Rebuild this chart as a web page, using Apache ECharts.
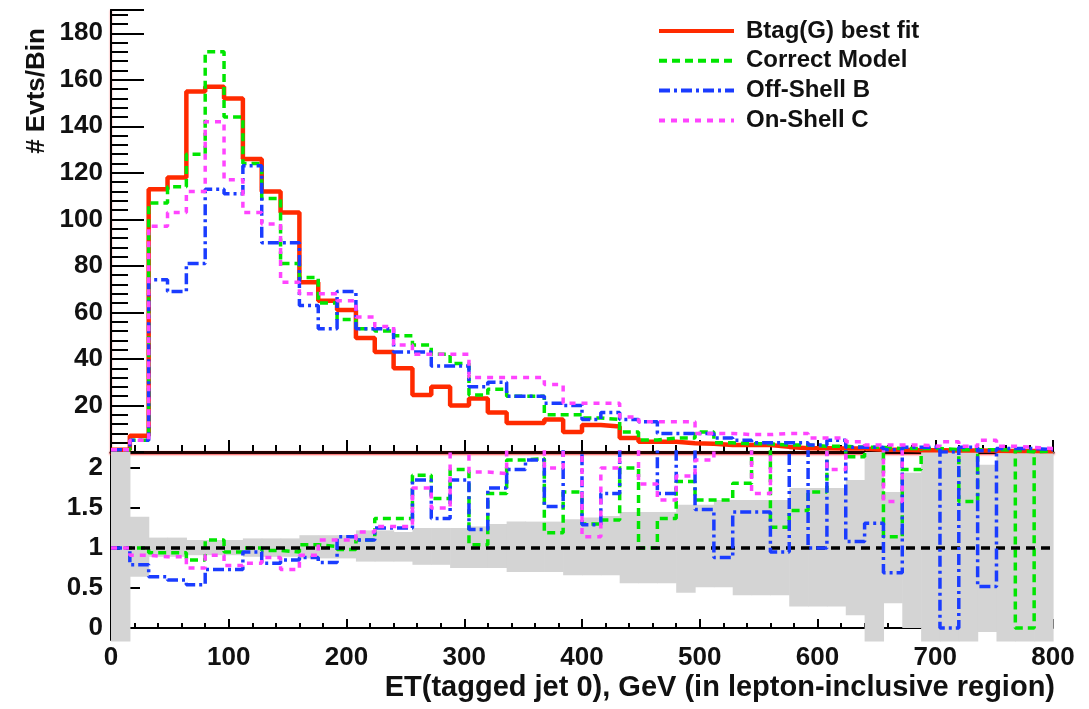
<!DOCTYPE html>
<html lang="en">
<head>
<meta charset="UTF-8">
<title>ET(tagged jet 0)</title>
<script src="https://cdn.jsdelivr.net/npm/echarts@6/dist/echarts.min.js"></script>
<style>
    html, body { margin: 0; padding: 0; background: #fff; }
    #chart { width: 1089px; height: 709px; }
</style>
</head>
<body>
<div id="chart"></div>
<script>
    // bin edges, GeV (16 GeV bins)
    var binEdges = [0, 16, 32, 48, 64, 80, 96, 112, 128, 144, 160, 176, 192, 208, 224, 240, 256, 272, 288, 304,
        320, 336, 352, 368, 384, 400, 416, 432, 448, 464, 480, 496, 512, 528, 544, 560, 576, 592, 608, 624,
        640, 656, 672, 688, 704, 720, 736, 752, 768, 784, 800];

    var names = ['Btag(G) best fit', 'Correct Model', 'Off-Shell B', 'On-Shell C'];

    // events per bin (upper panel)
    var btagFit = [1, 7, 113, 118, 155, 157, 152, 126, 112, 103,
        73, 65, 61, 49, 43, 36, 24.5, 28, 20, 23,
        17, 12.5, 12.5, 14, 8.6, 11.6, 11, 6, 4.4, 4.4,
        3.8, 3.5, 3, 3, 3, 2.2, 1.6, 1.6, 1.5, 1.5,
        1, 1, 0.8, 0.8, 0.6, 0.6, 0.5, 0.4, 0.4, 0.3];
    var correctModel = [1, 5, 107, 114, 128, 172, 144, 124, 109, 81,
        75, 64, 57, 53, 52, 50, 46, 42, 38, 24.5,
        27, 24, 24, 16, 16, 14.6, 14, 8.6, 5.2, 6,
        6, 8.6, 4, 3.5, 3.5, 3, 3, 2.5, 2.5, 2,
        2, 1.5, 1.5, 1.5, 1, 1, 1, 0.8, 0, 0.5];
    var offShellB = [1, 5, 74, 69, 81, 113, 111, 123, 90, 90,
        63, 53, 69, 53, 53, 43, 43, 37, 37, 28,
        30, 24, 24, 21, 20, 14, 17, 14, 13, 8,
        8, 8, 6, 5, 4, 4, 4, 3, 5, 2,
        2, 1, 2, 2, 0, 2, 0.5, 1.5, 1.5, 1];
    var onShellC = [1, 5, 97, 103, 112, 142, 117, 103, 98, 73,
        68, 68, 65, 58, 54, 46, 42, 42, 42, 32,
        32, 32, 32, 29, 21, 21, 21, 15, 13, 13,
        13, 8, 8, 7.5, 7.5, 8, 8, 6, 6, 4.4,
        3, 3, 3, 2.5, 4.4, 2.5, 5, 2.5, 2, 1.5];

    // ratio to best fit (lower panel)
    var ratioCorrect = [1.0, 1.0, 0.94, 0.94, 0.85, 1.1, 0.95, 1.0, 0.97, 0.95,
        1.04, 1.02, 0.98, 1.1, 1.37, 1.37, 1.91, 1.62, 1.98, 1.04,
        1.68, 2.1, 2.12, 1.19, 1.7, 1.3, 1.35, 2.0, 1.0, 1.37,
        1.83, 1.6, 1.6, 1.81, 3, 1.26, 1.47, 1.7, 3, 2.14,
        3, 1.14, 1.98, 3, 3, 1.58, 3, 3, 0.0, 3];
    var ratioOffShellB = [1.0, 0.79, 0.64, 0.6, 0.54, 0.73, 0.73, 0.95, 0.81, 0.85,
        0.88, 0.82, 1.14, 1.1, 1.25, 1.25, 1.85, 1.37, 1.85, 1.23,
        1.75, 1.98, 2.1, 1.52, 3, 1.29, 1.68, 3, 3, 1.68,
        3, 1.48, 0.88, 1.45, 1.45, 0.95, 3, 1.0, 3, 1.08,
        1.31, 0.69, 3, 3, 0.0, 3, 0.52, 3, 3, 3];
    var ratioOnShellC = [1.0, 0.91, 0.89, 0.89, 0.75, 0.91, 0.78, 0.81, 0.88, 0.73,
        0.91, 1.1, 1.1, 1.2, 1.27, 1.27, 1.75, 1.5, 3, 1.95,
        1.93, 3, 3, 2.0, 3, 1.14, 2.0, 3, 1.8, 1.6,
        1.9, 2.1, 3, 3, 1.68, 3, 3, 3, 1.98, 3,
        3, 1.58, 3, 3, 3, 3, 3, 3, 3, 3];

    // grey uncertainty band
    var bandLow = [-0.17, 0.64, 0.89, 0.89, 0.91, 0.91, 0.91, 0.89, 0.89, 0.89,
        0.87, 0.87, 0.87, 0.83, 0.83, 0.83, 0.79, 0.79, 0.75, 0.75,
        0.75, 0.70, 0.70, 0.70, 0.66, 0.66, 0.66, 0.56, 0.56, 0.56,
        0.44, 0.51, 0.51, 0.41, 0.41, 0.41, 0.27, 0.27, 0.27, 0.16,
        -0.17, 0.31, 0.0, -0.17, -0.17, -0.17, -0.05, -0.17, -0.17, -0.17];
    var bandHigh = [2.2, 1.39, 1.13, 1.13, 1.10, 1.10, 1.10, 1.12, 1.12, 1.12,
        1.16, 1.16, 1.16, 1.22, 1.22, 1.20, 1.25, 1.25, 1.25, 1.27,
        1.30, 1.33, 1.33, 1.33, 1.36, 1.38, 1.40, 1.45, 1.45, 1.45,
        1.54, 1.54, 1.60, 1.60, 1.60, 1.60, 1.75, 1.75, 1.75, 1.85,
        2.2, 1.70, 1.94, 2.2, 2.2, 2.2, 2.04, 2.2, 2.2, 2.2];

    var ratioTicks = [0, 0.5, 1, 1.5, 2];

    var FONT = '"Liberation Sans", Arial, sans-serif';

    function stepData(vals) {
        var d = [];
        for (var i = 0; i < vals.length; i++) {
            d.push([binEdges[i], vals[i]]);
        }
        d.push([binEdges[vals.length], vals[vals.length - 1]]);
        return d;
    }

    var bandData = [];
    for (var i = 0; i < bandLow.length; i++) {
        bandData.push([binEdges[i], binEdges[i + 1], bandLow[i], bandHigh[i]]);
    }

    var styles = [
        {color: '#ff2a00', width: 4.5, type: 'solid'},
        {color: '#00e600', width: 3.5, type: [8, 5]},
        {color: '#1a3cff', width: 3.5, type: [11, 4, 3, 4]},
        {color: '#ff44ff', width: 3.5, type: [6, 6]}
    ];
    var topData = [btagFit, correctModel, offShellB, onShellC];
    var ratioData = [null, ratioCorrect, ratioOffShellB, ratioOnShellC];

    var axisLineStyle = {color: '#000', width: 2, shadowColor: 'rgba(255,40,40,0.55)', shadowBlur: 2, shadowOffsetY: 1};

    var chart = echarts.init(document.getElementById('chart'));

    var series = [];
    for (var k = 0; k < 4; k++) {
        series.push({
            name: names[k],
            type: 'line',
            xAxisIndex: 0,
            yAxisIndex: 0,
            step: 'end',
            symbol: 'none',
            lineStyle: styles[k],
            itemStyle: {color: styles[k].color},
            data: stepData(topData[k]),
            z: 3 + k
        });
    }

    series.push({
        type: 'custom',
        xAxisIndex: 2,
        yAxisIndex: 2,
        clip: false,
        silent: true,
        encode: {x: [0, 1], y: [2, 3]},
        renderItem: function (params, api) {
            var p0 = api.coord([api.value(0), api.value(3)]);
            var p1 = api.coord([api.value(1), api.value(2)]);
            return {
                type: 'rect',
                shape: {x: p0[0], y: p0[1], width: p1[0] - p0[0] + 0.6, height: p1[1] - p0[1]},
                style: {fill: '#d4d4d4'}
            };
        },
        data: bandData,
        z: 2
    });

    for (var k = 1; k < 4; k++) {
        var s = {
            name: names[k],
            type: 'line',
            xAxisIndex: 2,
            yAxisIndex: 2,
            step: 'end',
            symbol: 'none',
            lineStyle: styles[k],
            itemStyle: {color: styles[k].color},
            data: stepData(ratioData[k]),
            z: 3 + k
        };
        if (k === 3) {
            s.markLine = {
                silent: true,
                symbol: 'none',
                label: {show: false},
                lineStyle: {color: '#000', width: 3.5, type: [9, 6]},
                data: [{yAxis: 1}]
            };
        }
        series.push(s);
    }

    var option = {
        animation: false,
        backgroundColor: '#fff',
        grid: [
            {left: 111, right: 36, top: 10, height: 442},
            {left: 111, right: 36, top: 452, height: 188}
        ],
        legend: {
            orient: 'vertical',
            left: 652,
            top: 14,
            icon: 'inherit',
            itemWidth: 75,
            itemHeight: 14,
            itemGap: 5.8,
            itemStyle: {opacity: 0},
            lineStyle: {width: 4},
            backgroundColor: '#fff',
            data: names,
            textStyle: {fontFamily: FONT, fontSize: 24, fontWeight: 'bold', color: '#111', padding: [0, 0, 0, 7]}
        },
        xAxis: [
            {
                gridIndex: 0, type: 'value', min: 0, max: 800, interval: 100,
                axisLine: {lineStyle: axisLineStyle},
                axisTick: {inside: true, length: 12, lineStyle: {color: '#000', width: 2}},
                minorTick: {show: true, splitNumber: 5, length: 7, lineStyle: {color: '#000', width: 2}},
                axisLabel: {show: false},
                splitLine: {show: false}
            },
            {
                gridIndex: 0, type: 'value', min: 0, max: 800, position: 'top',
                axisLine: {lineStyle: {color: '#200', width: 3, shadowColor: 'rgba(255,40,40,0.7)', shadowBlur: 2, shadowOffsetY: 1}},
                axisTick: {show: false},
                axisLabel: {show: false},
                splitLine: {show: false}
            },
            {
                gridIndex: 1, type: 'value', min: 0, max: 800, interval: 100,
                axisLine: {lineStyle: {color: '#000', width: 2}},
                axisTick: {inside: true, length: 9, lineStyle: {color: '#000', width: 2}},
                minorTick: {show: true, splitNumber: 5, length: 5, lineStyle: {color: '#000', width: 2}},
                axisLabel: {fontFamily: FONT, fontSize: 26, fontWeight: 'bold', color: '#111', margin: 5},
                splitLine: {show: false}
            }
        ],
        yAxis: [
            {
                gridIndex: 0, type: 'value', min: 0, max: 190, interval: 20,
                axisLine: {lineStyle: axisLineStyle},
                axisTick: {inside: true, length: 33, lineStyle: {color: '#000', width: 2}},
                minorTick: {show: true, splitNumber: 5, length: 17, lineStyle: {color: '#000', width: 2}},
                axisLabel: {
                    fontFamily: FONT, fontSize: 26, fontWeight: 'bold', color: '#111', margin: 8,
                    formatter: function (v) { return (v === 0 || v > 185) ? '' : v; }
                },
                splitLine: {show: false}
            },
            {
                gridIndex: 0, type: 'value', min: 0, max: 1, position: 'right',
                axisLine: {show: true, lineStyle: {color: '#000', width: 2}},
                axisTick: {show: false},
                axisLabel: {show: false},
                splitLine: {show: false}
            },
            {
                gridIndex: 1, type: 'value', min: -0.15, max: 2.2,
                axisLine: {lineStyle: {color: '#000', width: 2}},
                axisTick: {inside: true, length: 29, customValues: ratioTicks, lineStyle: {color: '#000', width: 2}},
                axisLabel: {
                    fontFamily: FONT, fontSize: 26, fontWeight: 'bold', color: '#111', margin: 8,
                    customValues: ratioTicks
                },
                splitLine: {show: false}
            }
        ],
        graphic: [
            {
                type: 'rect', z: 100, silent: true,
                shape: {x: 1046, y: 13, width: 14, height: 121},
                style: {fill: '#fff'}
            },
            {
                type: 'text', z: 100, x: 37, y: 91, rotation: Math.PI / 2,
                style: {
                    text: '# Evts/Bin', font: 'bold 26px ' + FONT, fill: '#111',
                    textAlign: 'center', textVerticalAlign: 'middle', align: 'center', verticalAlign: 'middle'
                }
            },
            {
                type: 'text', z: 100, right: 34, top: 673,
                style: {text: 'ET(tagged jet 0), GeV (in lepton-inclusive region)', font: 'bold 29px ' + FONT, fill: '#111'}
            }
        ],
        series: series
    };

    chart.setOption(option);
</script>
</body>
</html>
